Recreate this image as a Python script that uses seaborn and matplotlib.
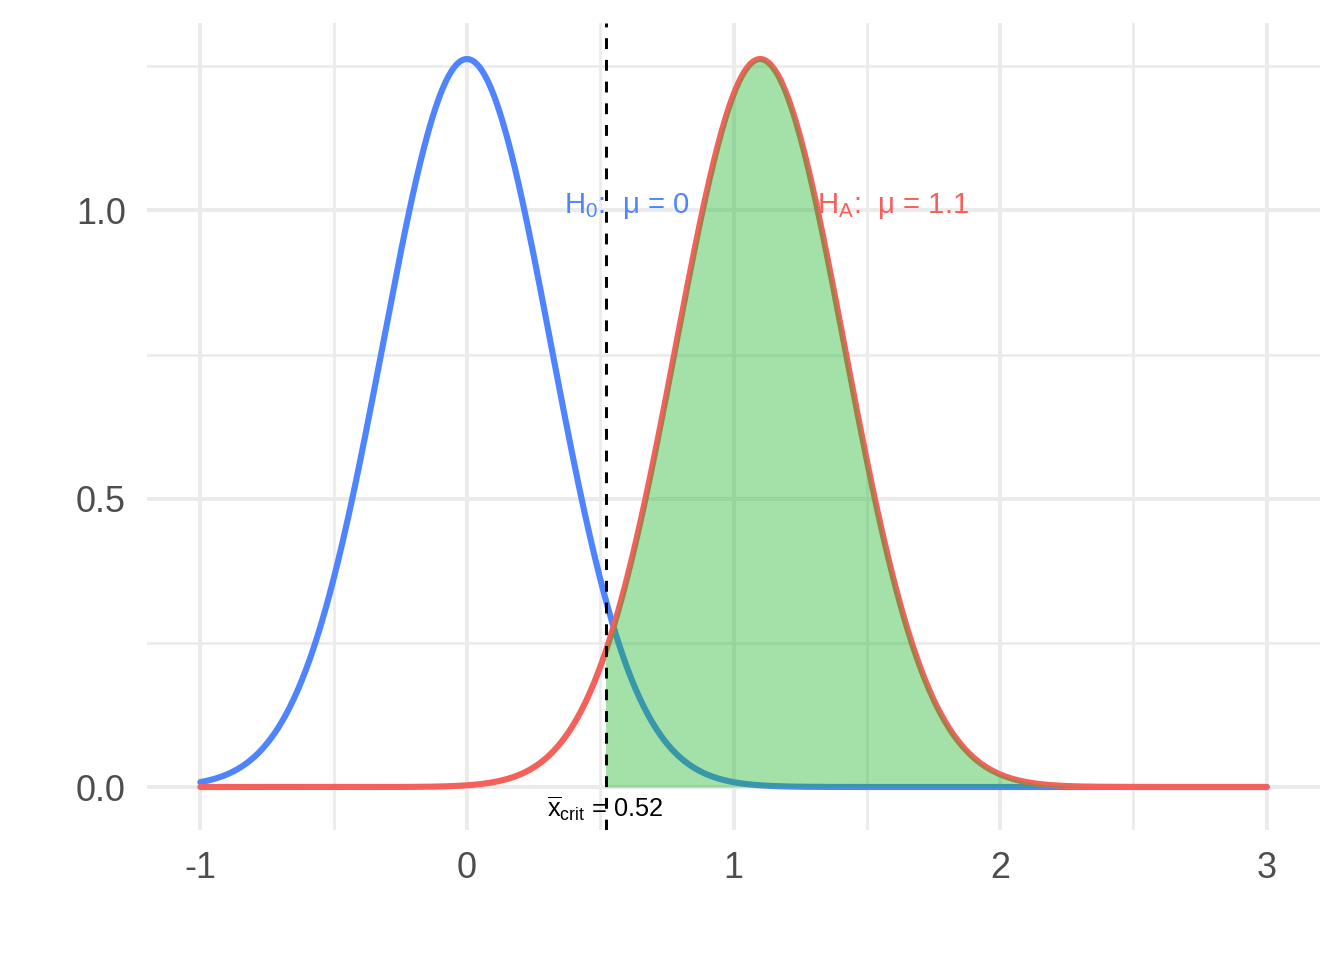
import numpy as np
import pandas as pd
import matplotlib
matplotlib.use("Agg")
import matplotlib.pyplot as plt
import seaborn as sns

# Values
mu_null = 0.0          # mean under H0
mu_alt = 1.1           # mean under HA
sd = 0.316             # standard error (sigma / sqrt(n)), peak ~1.26
x_crit = 0.52          # critical value
x_range = [-1, 3]

x_ticks = [-1, 0, 1, 2, 3]
y_ticks = [0.0, 0.5, 1.0]
x_minor = [-0.5, 0.5, 1.5, 2.5]
y_minor = [0.25, 0.75, 1.25]

blue = "#4E84FF"
red = "#F5605A"
green = "#19B42A"
grid_col = "#EBEBEB"


def normal_pdf(x, mu, s):
    # density curve of the sampling distribution
    return np.exp(-0.5 * ((x - mu) / s) ** 2) / (s * np.sqrt(2 * np.pi))


x = np.linspace(x_range[0], x_range[1], 801)
df = pd.DataFrame({
    "x": np.concatenate([x, x]),
    "density": np.concatenate([normal_pdf(x, mu_null, sd), normal_pdf(x, mu_alt, sd)]),
    "hyp": ["H0"] * len(x) + ["HA"] * len(x),
})

sns.set_theme(style="white")
plt.rcParams["font.family"] = ["Liberation Sans", "DejaVu Sans"]
plt.rcParams["mathtext.fontset"] = "custom"
plt.rcParams["mathtext.rm"] = "Liberation Sans"
plt.rcParams["mathtext.it"] = "Liberation Sans"
plt.rcParams["mathtext.bf"] = "Liberation Sans:bold"

fig = plt.figure(figsize=(7, 5), dpi=192)
ax = fig.add_axes([147 / 1344, 1 - 829.5 / 960, (1320 - 147) / 1344, (829.5 - 23) / 960])

# grid lines like theme_minimal
for v in x_minor:
    ax.axvline(v, color=grid_col, lw=1.0, zorder=0)
for v in y_minor:
    ax.axhline(v, color=grid_col, lw=1.0, zorder=0)
for v in x_ticks:
    ax.axvline(v, color=grid_col, lw=1.5, zorder=0)
for v in y_ticks:
    ax.axhline(v, color=grid_col, lw=1.5, zorder=0)

sns.lineplot(data=df, x="x", y="density", hue="hyp", palette={"H0": blue, "HA": red},
             linewidth=2.3, legend=False, ax=ax, zorder=2)

# power region: area under HA right of the critical value
alt = df[(df["hyp"] == "HA") & (df["x"] >= x_crit)]
ax.fill_between(alt["x"], 0, alt["density"], color=green, alpha=0.4, lw=0, zorder=3)

ax.axvline(x_crit, color="black", lw=1.1, linestyle=(0, (3.7, 3.7)), zorder=4)

ax.text(0.6, 0.995, "H$_0$:  μ = 0", color=blue, fontsize=11,
        ha="center", va="baseline", zorder=5)
ax.text(1.6, 0.995, "H$_A$:  μ = 1.1", color=red, fontsize=11,
        ha="center", va="baseline", zorder=5)
ax.text(x_crit, -0.052, r"$\overline{\mathrm{x}}_{\mathrm{crit}}$ = 0.52", color="black",
        fontsize=9.5, ha="center", va="baseline", zorder=5)

ax.set_xlim(-1.2, 3.2)
ax.set_ylim(-0.0737, 1.325)
ax.set_xticks(x_ticks)
ax.set_xticklabels([str(t) for t in x_ticks])
ax.set_yticks(y_ticks)
ax.set_yticklabels([f"{t:.1f}" for t in y_ticks])
ax.tick_params(axis="both", length=0, labelsize=13.5, labelcolor="#4D4D4D")
ax.tick_params(axis="x", pad=8)
ax.tick_params(axis="y", pad=8)
ax.set_xlabel("")
ax.set_ylabel("")
for s in ax.spines.values():
    s.set_visible(False)
ax.grid(False)

fig.savefig("out.png", dpi=192, facecolor="white")
